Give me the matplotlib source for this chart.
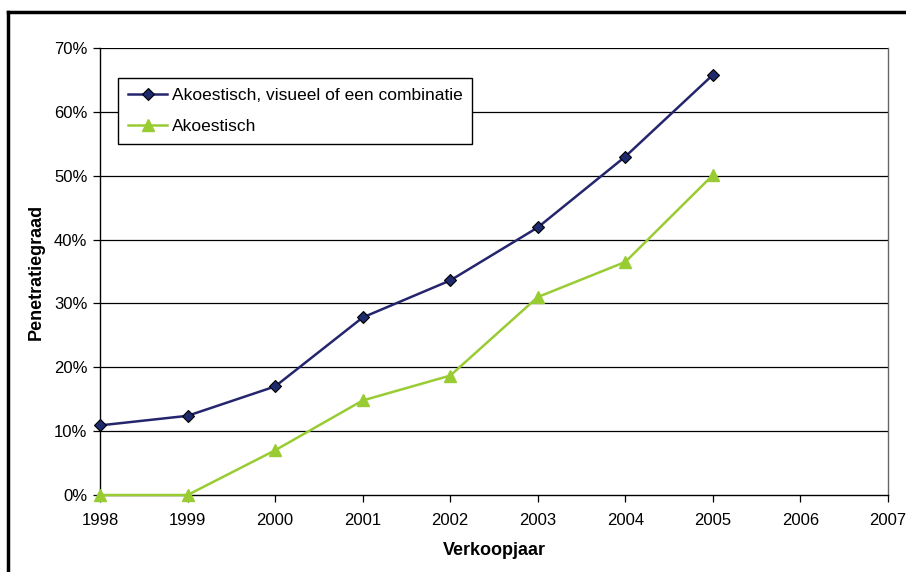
import matplotlib
matplotlib.use("Agg")
import matplotlib.pyplot as plt
from matplotlib.lines import Line2D
from matplotlib.ticker import FuncFormatter

years = [1998, 1999, 2000, 2001, 2002, 2003, 2004, 2005]
combinatie = [10.9, 12.4, 17.0, 27.8, 33.6, 41.9, 53.0, 65.8]
akoestisch = [0.0, 0.0, 7.0, 14.8, 18.7, 31.0, 36.5, 50.1]
x_ticks = list(range(1998, 2008))
y_ticks = [0, 10, 20, 30, 40, 50, 60, 70]
label_comb = "Akoestisch, visueel of een combinatie"
label_ak = "Akoestisch"

plt.rcParams['font.family'] = ['Liberation Sans', 'DejaVu Sans']

fig = plt.figure(figsize=(9.06, 5.72), dpi=100)
ax = fig.add_axes([100/906, 1-495/572, 788/906, 447/572])

for v in y_ticks[1:]:
    ax.axhline(v, color='black', lw=0.9, zorder=1)

ax.plot(years, combinatie, color='#25256e', lw=1.8, marker='D', markersize=6.5,
        markerfacecolor='#1f2a6e', markeredgecolor='black', markeredgewidth=0.8,
        label=label_comb, zorder=3, clip_on=False)
ax.plot(years, akoestisch, color='#99cc33', lw=1.8, marker='^', markersize=8.5,
        markerfacecolor='#99cc33', markeredgecolor='#99cc33',
        label=label_ak, zorder=3, clip_on=False)

ax.set_xlim(1998, 2007)
ax.set_ylim(0, 70)
ax.set_xticks(x_ticks)
ax.set_yticks(y_ticks)
ax.yaxis.set_major_formatter(FuncFormatter(lambda v, p: f"{int(v)}%"))
ax.tick_params(axis='both', labelsize=12, length=5, width=0.9, color='black')
ax.tick_params(axis='y', pad=4)
ax.tick_params(axis='x', pad=8)

ax.spines['top'].set_visible(False)
ax.spines['right'].set_color('#666666')
ax.spines['left'].set_color('black')
ax.spines['bottom'].set_color('black')
for s in ax.spines.values():
    s.set_linewidth(1.0)

ax.set_xlabel("Verkoopjaar", fontsize=13, fontweight='bold', labelpad=10)
ax.set_ylabel("Penetratiegraad", fontsize=13, fontweight='bold', labelpad=7)

leg = ax.legend(loc='upper left', bbox_to_anchor=(18/788, 1-30/447), fontsize=12.5,
                frameon=True, fancybox=False, framealpha=1, edgecolor='black',
                handlelength=2.3, handletextpad=0.25, borderpad=0.55, labelspacing=0.95,
                borderaxespad=0)
leg.get_frame().set_linewidth(1.0)

# outer frame
fig.add_artist(Line2D([8/906, 8/906], [0, 1-12/572], color='black', lw=2.5,
                      transform=fig.transFigure))
fig.add_artist(Line2D([8/906, 1], [1-12/572, 1-12/572], color='black', lw=2.5,
                      transform=fig.transFigure))

fig.savefig("out.png", dpi=100)
